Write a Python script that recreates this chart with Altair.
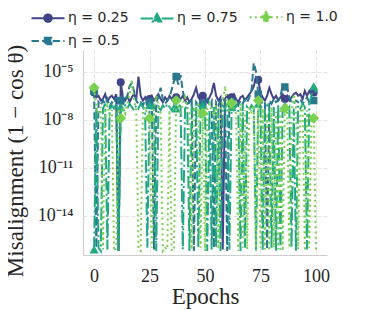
import math
import altair as alt
import pandas as pd

# ---------------- data ----------------
epochs = list(range(101))
series_names = ["η = 0.25", "η = 0.5", "η = 0.75", "η = 1.0"]
legend_order = ["η = 0.25", "η = 1.0", "η = 0.75", "η = 0.5"]
series_colors = ["#414487", "#2a788e", "#22a884", "#7ad151"]

# log10 of misalignment, epochs 0..100
exp_025 = [
    -6.3, -6.6, -6.5, -6.8, -6.7, -6.4, -6.9, -6.6, -6.5, -6.7,
    -6.4, -16.2, -5.65, -6.6, -6.8, -6.5, -6.9, -6.6, -6.4, -6.7,
    -5.3, -6.5, -6.8, -6.6, -6.9, -6.7, -6.5, -6.8, -6.6, -6.4,
    -6.7, -6.9, -6.6, -6.8, -6.5, -6.7, -6.9, -6.6, -6.8, -6.7,
    -6.5, -6.8, -6.6, -6.9, -6.7, -6.4, -6.0, -6.6, -6.8, -6.5,
    -6.7, -6.9, -6.6, -6.3, -5.7, -6.5, -6.8, -6.6, -16.1, -6.7,
    -6.5, -6.8, -6.6, -6.4, -6.7, -6.9, -6.6, -6.5, -6.8, -6.6,
    -6.4, -6.2, -5.9, -5.35, -5.5, -6.3, -6.6, -6.8, -6.5, -6.0,
    -6.4, -6.7, -6.5, -6.8, -6.6, -6.4, -6.7, -6.5, -6.8, -6.6,
    -6.4, -6.3, -6.5, -6.4, -6.7, -6.2, -6.5, -6.2, -6.4, -6.3,
    -6.5,
]
exp_050 = [
    -6.2, -16.0, -6.9, -7.1, -6.8, -7.0, -6.7, -7.2, -6.9, -7.0,
    -6.6, -16.2, -6.8, -7.0, -6.7, -6.5, -5.9, -5.7, -6.2, -6.8,
    -7.0, -6.9, -7.1, -6.8, -7.0, -6.9, -6.7, -16.1, -6.9, -6.6,
    -6.0, -6.7, -7.0, -6.8, -6.6, -6.1, -5.6, -5.3, -5.8, -5.2,
    -6.2, -6.8, -7.0, -6.9, -6.7, -16.2, -6.9, -7.1, -6.8, -7.0,
    -6.9, -6.7, -7.0, -6.8, -16.0, -6.9, -7.1, -6.8, -6.6, -6.9,
    -16.2, -6.8, -7.0, -6.7, -6.9, -7.1, -6.8, -7.0, -6.7, -6.9,
    -6.6, -6.1, -4.45, -5.0, -6.4, -6.8, -7.0, -6.9, -16.1, -6.8,
    -7.0, -6.7, -6.9, -6.8, -6.5, -5.9, -5.95, -6.0, -6.6, -6.9,
    -7.0, -6.8, -6.9, -6.7, -7.0, -6.8, -6.6, -6.9, -6.7, -6.8,
    -6.9,
]
exp_075 = [
    -16.1, -7.2, -16.0, -16.2, -7.3, -7.0, -16.1, -7.4, -7.1, -7.3,
    -7.0, -16.2, -7.2, -7.4, -7.1, -7.3, -7.0, -7.2, -7.4, -7.1,
    -7.3, -7.0, -7.2, -7.5, -16.0, -7.1, -7.3, -7.0, -16.2, -7.2,
    -7.4, -7.1, -7.3, -7.0, -7.2, -7.4, -7.1, -7.3, -7.0, -7.2,
    -16.1, -7.3, -7.1, -16.2, -7.2, -7.4, -7.0, -16.0, -7.3, -7.1,
    -7.2, -16.2, -7.4, -16.1, -7.2, -16.0, -7.3, -16.2, -7.1, -7.3,
    -7.0, -16.1, -7.2, -7.4, -7.1, -7.3, -16.2, -7.0, -16.0, -7.2,
    -7.4, -7.1, -7.3, -16.1, -7.0, -7.2, -16.2, -7.3, -7.1, -7.4,
    -16.0, -7.2, -16.2, -7.0, -16.1, -7.3, -7.1, -7.4, -7.2, -16.0,
    -7.3, -16.2, -7.1, -7.3, -7.0, -7.2, -16.1, -7.0, -6.5, -5.9,
    -6.3,
]
exp_100 = [
    -6.0, -7.3, -7.6, -7.2, -16.1, -7.5, -7.1, -7.7, -7.4, -16.2,
    -16.0, -7.3, -7.9, -7.2, -7.6, -7.0, -6.4, -5.5, -6.8, -7.4,
    -16.1, -16.2, -7.5, -7.2, -7.7, -7.9, -16.0, -7.3, -6.5, -7.1,
    -7.6, -16.2, -16.0, -16.1, -7.4, -16.2, -16.0, -6.8, -7.2, -7.5,
    -7.0, -6.6, -7.3, -7.6, -16.1, -7.2, -7.5, -6.9, -16.0, -7.6,
    -16.2, -7.3, -7.0, -7.4, -7.7, -7.1, -16.1, -7.4, -6.9, -5.9,
    -7.2, -7.5, -6.95, -7.3, -7.6, -16.2, -7.0, -16.0, -7.4, -16.1,
    -7.2, -7.5, -7.1, -16.2, -6.8, -16.0, -7.3, -16.1, -7.6, -16.2,
    -7.2, -16.0, -7.5, -16.1, -7.3, -16.2, -7.3, -7.0, -16.0, -7.4,
    -6.4, -7.2, -16.1, -7.5, -7.1, -16.2, -7.4, -16.0, -7.6, -7.9,
    -16.1,
]
marker_epochs = [0, 12, 25, 37, 49, 62, 74, 86, 99]

x_ticks = [0, 25, 50, 75, 100]
y_ticks = [1e-5, 1e-8, 1e-11, 1e-14]
y_tick_labels = ["10⁻⁵", "10⁻⁸", "10⁻¹¹", "10⁻¹⁴"]

rows = []
for name, exps in zip(series_names, [exp_025, exp_050, exp_075, exp_100]):
    for ep, e in zip(epochs, exps):
        rows.append({"epoch": ep, "eta": name, "value": 10.0 ** e})
df = pd.DataFrame(rows)

# ---------------- styles ----------------
color_of = dict(zip(series_names, series_colors))
dash_of = {
    "η = 0.25": [1, 0],
    "η = 0.5": [7.4, 3.2],
    "η = 0.75": [12.8, 3.2, 2, 3.2],
    "η = 1.0": [2, 3.3],
}
plot_shape = {"η = 0.25": "circle", "η = 0.5": "square", "η = 0.75": "triangle-up", "η = 1.0": "diamond"}
plot_size = {"η = 0.25": 64, "η = 0.5": 56, "η = 0.75": 85, "η = 1.0": 121}
legend_path = {
    "η = 0.25": "M-1.5,0L1.5,0M-0.34,0A0.34,0.34,0,1,0,0.34,0A0.34,0.34,0,1,0,-0.34,0Z",
    "η = 0.5": "M-1.5,0L1.5,0M-0.3,-0.3L0.3,-0.3L0.3,0.3L-0.3,0.3Z",
    "η = 0.75": "M-1.5,0L1.5,0M0,-0.42L0.38,0.28L-0.38,0.28Z",
    "η = 1.0": "M-1.5,0L1.5,0M0,-0.48L0.42,0L0,0.48L-0.42,0Z",
}

color_scale = alt.Scale(domain=legend_order, range=[color_of[n] for n in legend_order])
stroke_scale = alt.Scale(domain=legend_order, range=[color_of[n] for n in legend_order])
dash_scale = alt.Scale(domain=legend_order, range=[dash_of[n] for n in legend_order])
shape_scale = alt.Scale(domain=legend_order, range=[legend_path[n] for n in legend_order])

label_expr = " : ".join(
    f"abs(log(datum.value)/LN10 - ({round(math.log10(v))})) < 0.5 ? '{lab}'"
    for v, lab in zip(y_ticks, y_tick_labels)
) + " : ''"

x_axis = alt.Axis(values=x_ticks, title="Epochs", ticks=False, tickSize=0, labelPadding=12,
                  titleY=48, titleBaseline="alphabetic", labelFlush=False)
y_axis = alt.Axis(values=y_ticks, labelExpr=label_expr, title="Misalignment (1 − cos θ)",
                  ticks=False, tickSize=0, labelPadding=10, titleX=-61, titleY=110.5,
                  titleBaseline="alphabetic", titleAngle=270, titleAlign="center")

x_enc = alt.X("epoch:Q", scale=alt.Scale(domain=[-5, 105], nice=False, zero=False), axis=x_axis)
y_enc = alt.Y("value:Q", scale=alt.Scale(type="log", domain=[10 ** -16.45, 10 ** -3.64], nice=False),
              axis=y_axis)

leg = alt.Legend(title=None, orient="none", legendX=-47, legendY=-45, columns=3, gridAlign="all",
                 symbolSize=484, symbolStrokeWidth=2,
                 labelFont="DejaVu Sans", labelFontSize=14,
                 labelColor="#262626", labelOffset=8, columnPadding=7, rowPadding=2, padding=0)

# legend-only layer first, so that its legend definition wins when layers merge
legend_layer = alt.Chart(df).transform_filter("datum.epoch < -1000").mark_point(
    filled=True, opacity=1, strokeWidth=2
).encode(
    x=x_enc, y=y_enc,
    color=alt.Color("eta:N", scale=color_scale, legend=leg),
    stroke=alt.Stroke("eta:N", scale=stroke_scale, legend=leg),
    shape=alt.Shape("eta:N", scale=shape_scale, legend=leg),
    strokeDash=alt.StrokeDash("eta:N", scale=dash_scale, legend=leg),
)
layers = [legend_layer]

for name in series_names:
    base = alt.Chart(df).transform_filter(alt.datum.eta == name)
    line = base.mark_line(strokeWidth=2, clip=True).encode(
        x=x_enc, y=y_enc,
        color=alt.Color("eta:N", scale=color_scale, legend=None),
        strokeDash=alt.StrokeDash("eta:N", scale=dash_scale, legend=None),
    )
    pts = base.transform_filter(
        alt.FieldOneOfPredicate(field="epoch", oneOf=marker_epochs)
    ).mark_point(shape=plot_shape[name], filled=True, size=plot_size[name], opacity=1, clip=True).encode(
        x=x_enc, y=y_enc,
        color=alt.Color("eta:N", scale=color_scale, legend=None),
    )
    layers += [line, pts]

chart = alt.layer(*layers).properties(
    width=244, height=205,
    autosize=alt.AutoSizeParams(type="none"),
    padding={"left": 75, "top": 42, "right": 46, "bottom": 55},
    background="white",
).configure_view(stroke=None).configure_axis(
    labelFont="Liberation Serif", titleFont="Liberation Serif",
    labelFontSize=18, titleFontSize=23, labelColor="#262626", titleColor="#262626",
    titleFontWeight="normal", gridColor="#e3e3e3", gridDash=[4, 2], gridWidth=1,
    domainColor="#cccccc", domainWidth=1,
)

chart.save("out.html", embed_options={"renderer": "svg", "actions": False})
